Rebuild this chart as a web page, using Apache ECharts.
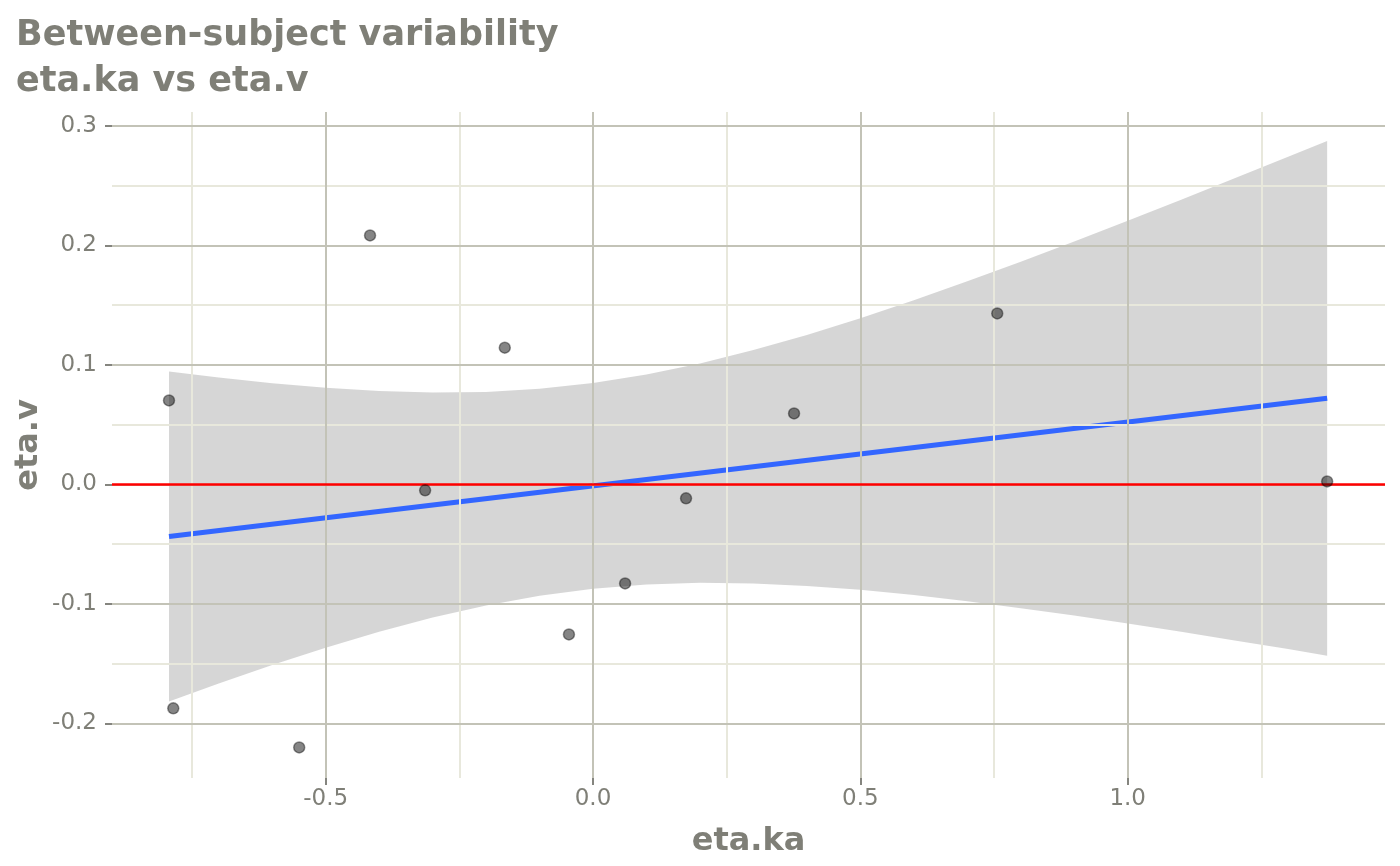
<!DOCTYPE html>
<html>
<head>
<meta charset="utf-8">
<script src="https://cdn.jsdelivr.net/npm/echarts@6/dist/echarts.min.js"></script>
<style>
html,body{margin:0;padding:0;background:#fff;}
#chart{width:1400px;height:866px;}
</style>
</head>
<body>
<div id="chart"></div>
<script>
// ---- data ----
const etaKa = [-0.793, -0.785, -0.5495, -0.417, -0.314, -0.165, -0.045, 0.060, 0.174, 0.376, 0.756, 1.373];
const etaV  = [0.0703, -0.1875, -0.2202, 0.2084, -0.005, 0.1144, -0.1256, -0.0829, -0.0117, 0.0594, 0.1431, 0.0025];

const fitX = [-0.793, 1.373];
const fitY = [-0.0436, 0.0720];

const bandX     = [-0.793, -0.7, -0.6, -0.5, -0.4, -0.3, -0.2, -0.1, 0.0, 0.1, 0.2, 0.3, 0.4, 0.5, 0.6, 0.7, 0.8, 0.9, 1.0, 1.1, 1.2, 1.3, 1.373];
const bandUpper = [0.0945, 0.0894, 0.0847, 0.0808, 0.0782, 0.0769, 0.0774, 0.0800, 0.0848, 0.0920, 0.1012, 0.1125, 0.1251, 0.1391, 0.1541, 0.1700, 0.1864, 0.2034, 0.2207, 0.2383, 0.2562, 0.2743, 0.2875];
const bandLower = [-0.1817, -0.1667, -0.1513, -0.1368, -0.1234, -0.1115, -0.1014, -0.0932, -0.0874, -0.0838, -0.0824, -0.0829, -0.0851, -0.0883, -0.0927, -0.0978, -0.1036, -0.1098, -0.1165, -0.1233, -0.1306, -0.1379, -0.1435];

const xTicks = [-0.5, 0.0, 0.5, 1.0];
const yTicks = [-0.2, -0.1, 0.0, 0.1, 0.2, 0.3];
const xMinorTicks = [-0.75, -0.25, 0.25, 0.75, 1.25];
const yMinorTicks = [-0.15, -0.05, 0.05, 0.15, 0.25];
const xRange = [-0.8996, 1.4812];
const yRange = [-0.2458, 0.3117];
const refLineY = 0;

const titleText = 'Between-subject variability\neta.ka vs eta.v';
const xName = 'eta.ka';
const yName = 'eta.v';

// ---- styles ----
const textColor = '#7f7f77';
const majorColor = '#c3c3b7';
const minorColor = '#e8e8dc';
const tickColor = '#85857f';
const font = 'DejaVu Sans';

const points = etaKa.map((x, i) => [x, etaV[i]]);
const fitLine = fitX.map((x, i) => [x, fitY[i]]);
const bandPts = bandX.map((x, i) => [x, bandUpper[i], bandLower[i]]);

const minorLines = [
  ...xMinorTicks.map(v => ({ xAxis: v })),
  ...yMinorTicks.map(v => ({ yAxis: v }))
];
const majorLines = [
  ...xTicks.map(v => ({ xAxis: v })),
  ...yTicks.map(v => ({ yAxis: v }))
];

function gridSeries(name, lines, color, z) {
  return {
    name: name,
    type: 'line',
    data: [],
    z: z,
    silent: true,
    markLine: {
      silent: true,
      animation: false,
      symbol: ['none', 'none'],
      label: { show: false },
      emphasis: { disabled: true },
      lineStyle: { color: color, width: 2, type: 'solid' },
      data: lines
    }
  };
}

const chart = echarts.init(document.getElementById('chart'), null, { renderer: 'canvas' });

chart.setOption({
  backgroundColor: '#ffffff',
  animation: false,
  title: {
    text: titleText,
    left: 11,
    top: 8,
    textStyle: { fontFamily: font, fontSize: 35, fontWeight: 'bold', color: textColor, lineHeight: 46 }
  },
  grid: { left: 112, right: 15, top: 112, bottom: 88, containLabel: false, outerBoundsMode: 'none' },
  xAxis: {
    type: 'value',
    min: xRange[0],
    max: xRange[1],
    name: xName,
    nameLocation: 'middle',
    nameGap: 48,
    nameMoveOverlap: false,
    nameTextStyle: { fontFamily: font, fontSize: 32, fontWeight: 'bold', color: textColor },
    axisLine: { show: false, onZero: false },
    axisTick: { show: true, length: 7, customValues: xTicks, lineStyle: { color: tickColor, width: 2 } },
    axisLabel: {
      customValues: xTicks, margin: 10,
      fontFamily: font, fontSize: 23, color: textColor,
      formatter: v => Number(v).toFixed(1)
    },
    splitLine: { show: false },
    minorSplitLine: { show: false }
  },
  yAxis: {
    type: 'value',
    min: yRange[0],
    max: yRange[1],
    name: yName,
    nameLocation: 'middle',
    nameGap: 67,
    nameMoveOverlap: false,
    nameRotate: 90,
    nameTextStyle: { fontFamily: font, fontSize: 32, fontWeight: 'bold', color: textColor },
    axisLine: { show: false, onZero: false },
    axisTick: { show: true, length: 7, customValues: yTicks, lineStyle: { color: tickColor, width: 2 } },
    axisLabel: {
      customValues: yTicks, margin: 15,
      fontFamily: font, fontSize: 23, color: textColor,
      formatter: v => Number(v).toFixed(1)
    },
    splitLine: { show: false },
    minorSplitLine: { show: false }
  },
  series: [
    gridSeries('minorGrid', minorLines, minorColor, 0),
    gridSeries('majorGrid', majorLines, majorColor, 1),
    {
      name: 'ref',
      type: 'line',
      data: [],
      z: 2,
      silent: true,
      markLine: {
        silent: true,
        symbol: ['none', 'none'],
        label: { show: false },
        emphasis: { disabled: true },
        lineStyle: { color: '#ff0000', width: 2.5, type: 'solid' },
        data: [{ yAxis: refLineY }]
      }
    },
    {
      name: 'band',
      type: 'custom',
      z: 3,
      silent: true,
      data: bandPts,
      encode: { x: 0, y: [1, 2] },
      renderItem: function (params, api) {
        if (params.dataIndex !== 0) return null;
        const up = bandPts.map(p => api.coord([p[0], p[1]]));
        const lo = bandPts.slice().reverse().map(p => api.coord([p[0], p[2]]));
        return {
          type: 'polygon',
          shape: { points: up.concat(lo) },
          style: { fill: 'rgba(153,153,153,0.4)', stroke: null }
        };
      }
    },
    {
      name: 'fit',
      type: 'line',
      z: 4,
      data: fitLine,
      showSymbol: false,
      symbol: 'none',
      lineStyle: { color: '#3366ff', width: 5 }
    },
    {
      name: 'points',
      type: 'scatter',
      z: 5,
      data: points,
      symbolSize: 11,
      itemStyle: { color: 'rgba(0,0,0,0.48)', borderColor: 'rgba(0,0,0,0.4)', borderWidth: 1.5, opacity: 1 }
    }
  ]
});
</script>
</body>
</html>
